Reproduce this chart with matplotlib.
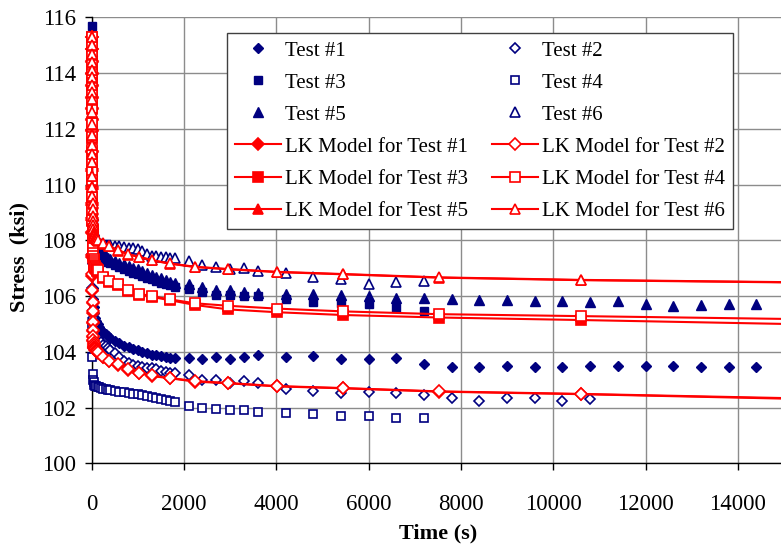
import matplotlib
matplotlib.use("Agg")
from matplotlib import pyplot as plt

# time stamps for the test data (s)
t_dense = [0, 2, 5, 10, 20, 30, 45, 60, 80, 100, 130, 160, 200, 250, 300, 350, 400,
           500, 600, 700, 800, 900, 1000, 1100, 1200, 1300, 1400, 1500, 1600, 1700, 1800]
t_sparse = [2100, 2400, 2700, 3000, 3300, 3600, 4200, 4800, 5400, 6000, 6600, 7200,
            7800, 8400, 9000, 9600, 10200, 10800, 11400, 12000, 12600, 13200, 13800, 14400]

# measured stress (ksi)
test1 = [114.8, 111.0, 108.5, 107.2, 106.3, 105.9, 105.6, 105.4, 105.2, 105.1, 105.0, 104.9,
         104.8, 104.7, 104.65, 104.55, 104.5, 104.38, 104.3, 104.22, 104.17, 104.1, 104.05,
         104.0, 103.95, 103.9, 103.87, 103.84, 103.81, 103.79, 103.77,
         103.77, 103.73, 103.83, 103.75, 103.83, 103.87, 103.83, 103.85, 103.75, 103.75,
         103.78, 103.55, 103.47, 103.47, 103.50, 103.44, 103.47, 103.48, 103.48, 103.48,
         103.48, 103.44, 103.45, 103.44]
test2 = [114.5, 110.0, 107.5, 106.3, 105.5, 105.2, 104.95, 104.8, 104.65, 104.6, 104.52, 104.45,
         104.35, 104.26, 104.2, 104.12, 104.05, 103.95, 103.8, 103.68, 103.59, 103.53, 103.48,
         103.45, 103.43, 103.41, 103.37, 103.32, 103.29, 103.25, 103.23,
         103.17, 102.99, 102.99, 102.89, 102.96, 102.88, 102.65, 102.60, 102.51, 102.55,
         102.51, 102.45, 102.35, 102.23, 102.35, 102.35, 102.23, 102.29]
test3 = [115.7, 112.0, 110.2, 109.3, 108.6, 108.3, 108.1, 107.95, 107.82, 107.7, 107.58, 107.5,
         107.42, 107.35, 107.29, 107.23, 107.18, 107.1, 107.03, 106.96, 106.9, 106.84, 106.78,
         106.72, 106.66, 106.6, 106.54, 106.48, 106.43, 106.38, 106.33,
         106.25, 106.15, 106.05, 106.05, 106.0, 106.0, 105.88, 105.80, 105.75, 105.71,
         105.56, 105.46]
test4 = [113.0, 108.0, 105.0, 103.8, 103.2, 103.0, 102.9, 102.82, 102.78, 102.76, 102.74, 102.72,
         102.69, 102.67, 102.65, 102.63, 102.62, 102.59, 102.56, 102.54, 102.52, 102.5, 102.47,
         102.45, 102.42, 102.39, 102.35, 102.31, 102.28, 102.24, 102.21,
         102.06, 102.0, 101.95, 101.91, 101.9, 101.85, 101.79, 101.76, 101.71, 101.71,
         101.64, 101.64]
test5 = [114.8, 112.0, 110.5, 109.6, 108.9, 108.6, 108.35, 108.2, 108.05, 107.9, 107.75, 107.65,
         107.58, 107.5, 107.44, 107.38, 107.34, 107.27, 107.2, 107.14, 107.08, 107.02, 106.96,
         106.9, 106.83, 106.77, 106.7, 106.64, 106.58, 106.52, 106.47,
         106.42, 106.32, 106.22, 106.2, 106.14, 106.12, 106.08, 106.08, 106.03, 106.0,
         105.92, 105.92, 105.89, 105.86, 105.86, 105.82, 105.82, 105.8, 105.84, 105.7,
         105.64, 105.67, 105.71, 105.7]
test6 = [114.5, 111.0, 109.5, 108.7, 108.2, 108.05, 107.98, 107.95, 107.93, 107.9, 107.88, 107.87,
         107.86, 107.85, 107.84, 107.83, 107.82, 107.8, 107.78, 107.76, 107.74, 107.71, 107.67,
         107.6, 107.52, 107.45, 107.42, 107.41, 107.4, 107.38, 107.36,
         107.26, 107.11, 107.05, 106.98, 107.0, 106.9, 106.82, 106.7, 106.6, 106.43,
         106.52, 106.54]

# LK model output times (s)
t_model = [0, 0.5, 1, 1.5, 2, 2.5, 3, 3.5, 4, 5, 6, 7, 8, 9, 10, 12, 14, 16, 18, 20, 23, 26,
           30, 35, 40, 46, 53, 60, 70, 80, 95, 110, 125,
           144, 252, 375, 577, 794, 1032, 1300, 1697, 2239, 2961, 4009, 5445, 7530, 10596, 15000]

lk1 = [115.30, 114.85, 114.40, 113.96, 113.53, 113.11, 112.70, 112.30, 111.91, 111.17, 110.48,
       109.85, 109.27, 108.74, 108.25, 107.40, 106.72, 106.17, 105.74, 105.40, 105.02, 104.76,
       104.54, 104.38, 104.28, 104.21, 104.16, 104.12, 104.09, 104.07, 104.05, 104.03, 104.01,
       103.95, 103.80, 103.66, 103.53, 103.35, 103.23, 103.13, 103.05, 102.93, 102.87, 102.76,
       102.69, 102.57, 102.48, 102.32]
lk2 = [115.30, 114.86, 114.42, 113.99, 113.56, 113.15, 112.74, 112.35, 111.96, 111.22, 110.54,
       109.91, 109.33, 108.80, 108.31, 107.46, 106.78, 106.23, 105.80, 105.45, 105.07, 104.80,
       104.58, 104.41, 104.31, 104.24, 104.19, 104.15, 104.12, 104.10, 104.07, 104.05, 104.03,
       103.98, 103.82, 103.68, 103.55, 103.37, 103.25, 103.15, 103.06, 102.95, 102.88, 102.77,
       102.70, 102.58, 102.49, 102.34]
lk3 = [115.30, 114.95, 114.60, 114.26, 113.93, 113.61, 113.30, 113.00, 112.71, 112.17, 111.67,
       111.22, 110.81, 110.44, 110.10, 109.52, 109.05, 108.68, 108.38, 108.14, 107.88, 107.69,
       107.52, 107.38, 107.28, 107.20, 107.13, 107.08, 107.03, 107.00, 106.96, 106.93, 106.91,
       106.88, 106.63, 106.50, 106.38, 106.17, 106.05, 105.97, 105.85, 105.68, 105.52, 105.42,
       105.32, 105.23, 105.14, 105.00]
lk4 = [115.30, 114.96, 114.62, 114.29, 113.97, 113.65, 113.35, 113.05, 112.76, 112.22, 111.72,
       111.27, 110.86, 110.49, 110.15, 109.57, 109.10, 108.73, 108.42, 108.18, 107.92, 107.73,
       107.56, 107.42, 107.32, 107.24, 107.17, 107.12, 107.07, 107.04, 107.00, 106.97, 106.95,
       106.92, 106.67, 106.54, 106.42, 106.20, 106.08, 106.00, 105.88, 105.74, 105.65, 105.55,
       105.45, 105.35, 105.28, 105.18]
lk5 = [115.30, 115.00, 114.70, 114.40, 114.11, 113.83, 113.56, 113.30, 113.05, 112.58, 112.15,
       111.76, 111.41, 111.09, 110.80, 110.30, 109.90, 109.58, 109.32, 109.10, 108.86, 108.68,
       108.52, 108.38, 108.29, 108.22, 108.16, 108.12, 108.09, 108.07, 108.05, 108.03, 108.01,
       107.98, 107.88, 107.78, 107.63, 107.49, 107.40, 107.28, 107.16, 107.04, 106.96, 106.86,
       106.78, 106.66, 106.57, 106.49]
lk6 = [115.30, 115.00, 114.70, 114.40, 114.12, 113.85, 113.58, 113.32, 113.07, 112.60, 112.17,
       111.78, 111.43, 111.11, 110.82, 110.32, 109.92, 109.60, 109.34, 109.12, 108.88, 108.70,
       108.54, 108.40, 108.31, 108.24, 108.18, 108.14, 108.11, 108.09, 108.07, 108.05, 108.03,
       108.00, 107.90, 107.80, 107.65, 107.50, 107.41, 107.29, 107.17, 107.05, 106.97, 106.87,
       106.79, 106.67, 106.58, 106.50]

test_labels = ["Test #1", "Test #2", "Test #3", "Test #4", "Test #5", "Test #6"]
model_labels = ["LK Model for Test #1", "LK Model for Test #2", "LK Model for Test #3",
                "LK Model for Test #4", "LK Model for Test #5", "LK Model for Test #6"]

NAVY = "#000080"
RED = "#FF0000"

plt.rcParams["font.family"] = ["Liberation Serif", "DejaVu Serif"]

fig = plt.figure(figsize=(7.81, 5.47), dpi=100)
ax = fig.add_axes([91.7 / 781, 1 - 463.3 / 547, 692.3 / 781, 446.0 / 547])

tests = [test1, test2, test3, test4, test5, test6]
markers = ["D", "D", "s", "s", "^", "^"]
sizes = [5.5, 5.5, 6, 6, 7, 7]
handles = {}

for i, data in enumerate(tests):
    t = (t_dense + t_sparse)[:len(data)]
    filled = i % 2 == 0
    h, = ax.plot(t, data, linestyle="none", marker=markers[i], markersize=sizes[i],
                 color=NAVY, markerfacecolor=NAVY if filled else "white",
                 markeredgewidth=1.0 if filled else 1.2, zorder=3, clip_on=False)
    handles[test_labels[i]] = h

models = [lk1, lk2, lk3, lk4, lk5, lk6]
for i, data in enumerate(models):
    filled = i % 2 == 0
    h, = ax.plot(t_model, data, color=RED, linewidth=1.5, marker=markers[i],
                 markersize=sizes[i] + 0.5, markerfacecolor=RED if filled else "white",
                 markeredgecolor=RED, markeredgewidth=1.2,
                 markevery=list(range(len(data) - 1)), zorder=4, clip_on=False)
    handles[model_labels[i]] = h

ax.set_xlim(0, 15000)
ax.set_ylim(100, 116)
ax.set_xticks(range(0, 15000, 2000))
ax.set_yticks(range(100, 117, 2))
ax.grid(True, color="#8c8c8c", linewidth=1.0)
ax.set_axisbelow(True)
for side in ["top", "right"]:
    ax.spines[side].set_visible(False)
for side in ["left", "bottom"]:
    ax.spines[side].set_linewidth(1.0)
ax.tick_params(direction="out", length=5, width=1, labelsize=16.5)
ax.tick_params(axis="x", pad=17)
ax.tick_params(axis="y", pad=6)

ax.set_xlabel("Time (s)", fontsize=16, fontweight="bold", labelpad=6)
ax.set_ylabel("Stress  (ksi)", fontsize=16, fontweight="bold")
ax.yaxis.set_label_coords(-62 / 692.3, 0.4626)

order = ["Test #1", "Test #3", "Test #5", "LK Model for Test #1", "LK Model for Test #3",
         "LK Model for Test #5", "Test #2", "Test #4", "Test #6", "LK Model for Test #2",
         "LK Model for Test #4", "LK Model for Test #6"]
leg = ax.legend([handles[k] for k in order], order, ncol=2, loc="upper left",
                bbox_to_anchor=(227 / 781, 1 - 33 / 547), bbox_transform=fig.transFigure,
                borderaxespad=0, fontsize=15, frameon=True, fancybox=False, framealpha=1,
                edgecolor="#404040", labelspacing=0.6, handlelength=2.2,
                handletextpad=0.2, columnspacing=1.15, borderpad=0.38)
leg.get_frame().set_linewidth(1.0)
leg.set_zorder(10)

plt.savefig("out.png", dpi=100)
